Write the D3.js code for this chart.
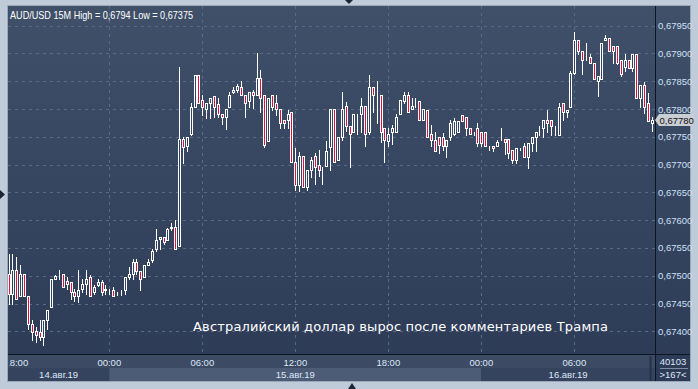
<!DOCTYPE html>
<html>
<head>
<meta charset="utf-8">
<script src="https://cdn.jsdelivr.net/npm/d3@7"></script>
<style>
html, body { margin: 0; padding: 0; background: #bfcbd8; }
svg { display: block; font-family: "Liberation Sans", sans-serif; }
</style>
</head>
<body>
<div id="chart"></div>
<script>
"use strict";

// 15 minute candles, AUD/USD, starting 14.08.2019 17:30
var startTime = new Date(2019, 7, 14, 17, 30);

var opens = [
  .67504,.67468,.67510,.67464,.67504,.67464,.67414,.67400,.67399,.67390,
  .67420,.67444,.67495,.67503,.67504,.67491,.67489,.67470,.67464,.67477,
  .67485,.67498,.67470,.67484,.67489,.67476,.67474,.67475,.67468,.67470,
  .67474,.67497,.67504,.67524,.67509,.67498,.67519,.67528,.67549,.67566,
  .67569,.67565,.67586,.67588,.67553,.67746,.67734,.67755,.67804,.67861,
  .67816,.67800,.67810,.67824,.67809,.67791,.67785,.67804,.67830,.67835,
  .67839,
  .67825,.67815,.67830,.67825,.67855,.67825,.67743,.67825,.67810,.67800,
  .67780,.67780,.67794,.67704,.67664,.67715,.67660,.67690,.67715,.67700,
  .67695,.67698,.67731,.67800,.67709,.67749,.67806,.67770,.67759,.67791,
  .67791,.67806,.67759,.67839,.67825,.67825,.67765,.67743,.67759,.67759,
  .67791,.67815,.67825,.67800,.67812,.67815,.67780,.67799,.67755,.67745,
  .67749,.67749,.67733,.67749,.67755,.67759,.67790,.67785,.67765,.67759,
  .67765,.67759,.67759,.67733,.67734,.67734,.67746,.67746,.67746,.67726,
  .67709,.67729,.67733,.67714,.67739,.67749,.67759,.67765,.67780,.67780,
  .67770,.67754,.67810,.67794,.67804,.67865,.67924,.67905,.67894,.67894,
  .67883,.67850,.67854,.67924,.67928,.67914,.67914,.67889,.67875,.67889,
  .67874,.67899,.67819,.67844,.67810,.67775
];
var highs = [
  .67540,.67540,.67534,.67519,.67504,.67464,.67420,.67408,.67420,.67420,
  .67439,.67495,.67501,.67510,.67504,.67498,.67489,.67477,.67510,.67495,
  .67510,.67501,.67484,.67495,.67492,.67484,.67477,.67479,.67471,.67474,
  .67498,.67515,.67530,.67530,.67509,.67520,.67530,.67549,.67585,.67570,
  .67570,.67586,.67595,.67600,.67876,.67750,.67749,.67810,.67861,.67861,
  .67825,.67810,.67819,.67824,.67819,.67791,.67800,.67831,.67840,.67845,
  .67851,
  .67825,.67830,.67834,.67900,.67870,.67825,.67819,.67825,.67825,.67800,
  .67780,.67798,.67794,.67730,.67723,.67715,.67690,.67714,.67720,.67726,
  .67695,.67743,.67800,.67800,.67749,.67831,.67812,.67770,.67791,.67791,
  .67819,.67806,.67861,.67839,.67850,.67825,.67765,.67765,.67771,.67791,
  .67816,.67831,.67831,.67819,.67819,.67815,.67800,.67799,.67771,.67759,
  .67749,.67756,.67745,.67780,.67783,.67779,.67790,.67785,.67765,.67759,
  .67774,.67759,.67759,.67733,.67734,.67744,.67765,.67746,.67746,.67726,
  .67729,.67729,.67739,.67739,.67749,.67759,.67769,.67780,.67799,.67780,
  .67770,.67810,.67810,.67799,.67869,.67939,.67924,.67905,.67918,.67899,
  .67883,.67860,.67919,.67933,.67928,.67914,.67914,.67889,.67899,.67889,
  .67899,.67899,.67844,.67849,.67829,.67785
];
var lows = [
  .67450,.67450,.67459,.67464,.67464,.67405,.67384,.67381,.67384,.67375,
  .67405,.67444,.67495,.67495,.67479,.67477,.67459,.67455,.67453,.67471,
  .67468,.67464,.67468,.67481,.67465,.67468,.67468,.67464,.67465,.67465,
  .67468,.67495,.67495,.67503,.67474,.67498,.67519,.67524,.67545,.67549,
  .67558,.67565,.67582,.67549,.67553,.67702,.67725,.67753,.67804,.67810,
  .67789,.67783,.67783,.67785,.67785,.67773,.67764,.67804,.67828,.67830,
  .67825,
  .67785,.67804,.67801,.67825,.67795,.67731,.67743,.67798,.67789,.67765,
  .67765,.67765,.67704,.67654,.67652,.67660,.67655,.67678,.67665,.67680,
  .67665,.67698,.67690,.67704,.67709,.67744,.67761,.67695,.67759,.67755,
  .67759,.67734,.67755,.67795,.67774,.67741,.67704,.67734,.67737,.67759,
  .67791,.67810,.67794,.67800,.67804,.67780,.67780,.67749,.67733,.67725,
  .67720,.67727,.67714,.67745,.67753,.67759,.67779,.67753,.67755,.67753,
  .67733,.67733,.67733,.67727,.67725,.67734,.67745,.67719,.67711,.67703,
  .67703,.67726,.67714,.67694,.67725,.67725,.67753,.67749,.67759,.67753,
  .67753,.67754,.67780,.67786,.67804,.67863,.67899,.67863,.67889,.67883,
  .67854,.67823,.67854,.67924,.67904,.67883,.67881,.67859,.67869,.67874,
  .67869,.67819,.67804,.67793,.67779,.67760
];
var closes = [
  .67468,.67510,.67459,.67504,.67464,.67414,.67399,.67394,.67390,.67420,
  .67439,.67495,.67499,.67504,.67479,.67485,.67470,.67464,.67475,.67485,
  .67495,.67464,.67479,.67489,.67470,.67475,.67474,.67464,.67468,.67470,
  .67498,.67504,.67524,.67509,.67495,.67520,.67524,.67544,.67565,.67569,
  .67560,.67584,.67588,.67549,.67746,.67731,.67749,.67804,.67861,.67810,
  .67804,.67810,.67819,.67804,.67791,.67785,.67800,.67825,.67835,.67841,
  .67825,
  .67810,.67830,.67825,.67855,.67819,.67736,.67819,.67804,.67800,.67774,
  .67774,.67791,.67704,.67664,.67715,.67660,.67690,.67709,.67695,.67690,
  .67695,.67725,.67800,.67704,.67749,.67800,.67770,.67755,.67791,.67791,
  .67806,.67755,.67839,.67825,.67825,.67759,.67745,.67755,.67765,.67785,
  .67816,.67825,.67794,.67806,.67812,.67780,.67800,.67749,.67745,.67725,
  .67735,.67734,.67745,.67774,.67779,.67779,.67779,.67765,.67755,.67759,
  .67739,.67739,.67733,.67733,.67729,.67740,.67746,.67740,.67720,.67709,
  .67729,.67729,.67714,.67739,.67749,.67759,.67759,.67780,.67774,.67769,
  .67770,.67804,.67794,.67799,.67865,.67924,.67905,.67889,.67894,.67883,
  .67854,.67860,.67919,.67928,.67904,.67904,.67883,.67863,.67889,.67874,
  .67899,.67819,.67844,.67804,.67779,.67780
];

var priceTicks = [0.674, 0.6745, 0.675, 0.6755, 0.676, 0.6765, 0.677, 0.6775, 0.678, 0.6785, 0.679, 0.6795];
var timeTicks = [
  new Date(2019, 7, 14, 18), new Date(2019, 7, 15, 0), new Date(2019, 7, 15, 6),
  new Date(2019, 7, 15, 12), new Date(2019, 7, 15, 18), new Date(2019, 7, 16, 0),
  new Date(2019, 7, 16, 6)
];
var days = [
  { label: "14.авг.19", from: new Date(2019, 7, 14, 0), to: new Date(2019, 7, 15, 0) },
  { label: "15.авг.19", from: new Date(2019, 7, 15, 0), to: new Date(2019, 7, 16, 0) },
  { label: "16.авг.19", from: new Date(2019, 7, 16, 0), to: new Date(2019, 7, 17, 0) }
];
var title = "AUD/USD 15M High = 0,6794 Low = 0,67375";
var note = "Австралийский доллар вырос после комментариев Трампа";
var lastPrice = 0.6778;

var width = 698, height = 389;
var plot = { left: 8, right: 655, top: 6, bottom: 354 };

var candles = opens.map(function(o, i) {
  return {
    t: new Date(startTime.getTime() + i * 15 * 60000),
    o: o, h: highs[i], l: lows[i], c: closes[i]
  };
});

var x = d3.scaleTime()
  .domain([new Date(2019, 7, 14, 18), new Date(2019, 7, 16, 6)])
  .range([16.3, 574.3]);
var y = d3.scaleLinear().domain([0.674, 0.6795]).range([331.3, 25.7]);

var fmt = function(v) { return d3.format(".5f")(v).replace(".", ","); };

var svg = d3.select("#chart").append("svg")
  .attr("width", width)
  .attr("height", height);

var defs = svg.append("defs");
var grad = defs.append("linearGradient").attr("id", "bg")
  .attr("x1", 0).attr("y1", 0).attr("x2", 0).attr("y2", 1);
grad.append("stop").attr("offset", "0%").attr("stop-color", "#405069");
grad.append("stop").attr("offset", "100%").attr("stop-color", "#2c3a56");
defs.append("clipPath").attr("id", "plotclip").append("rect")
  .attr("x", plot.left).attr("y", plot.top)
  .attr("width", plot.right - plot.left).attr("height", plot.bottom - plot.top);

// outer frame
svg.append("rect").attr("width", width).attr("height", height).attr("fill", "#bfcbd8");
svg.append("rect").attr("x", 7).attr("y", 5).attr("width", 684).attr("height", 377)
  .attr("fill", "#9aa8b8");
svg.append("rect").attr("x", plot.left).attr("y", plot.top)
  .attr("width", 682).attr("height", 375).attr("fill", "url(#bg)");

// little markers on the frame
svg.append("path").attr("d", "M345,0L353,0L349,4Z").attr("fill", "#1b2434");
svg.append("path").attr("d", "M348,389L356,389L352,383Z").attr("fill", "#1b2434");
svg.append("path").attr("d", "M0,190L0,199L5,194.5Z").attr("fill", "#1b2434");

// grid
var grid = svg.append("g").attr("clip-path", "url(#plotclip)")
  .attr("stroke", "#5a6a86").attr("stroke-dasharray", "3,4").attr("stroke-width", 1);
grid.selectAll(".hg").data(priceTicks).enter().append("line")
  .attr("x1", plot.left).attr("x2", plot.right)
  .attr("y1", function(d) { return Math.round(y(d)) + 0.5; })
  .attr("y2", function(d) { return Math.round(y(d)) + 0.5; });
grid.selectAll(".vg").data(timeTicks.slice(1)).enter().append("line")
  .attr("y1", plot.top).attr("y2", plot.bottom)
  .attr("x1", function(d) { return Math.round(x(d)) + 0.5; })
  .attr("x2", function(d) { return Math.round(x(d)) + 0.5; });

// candles
var cg = svg.append("g").attr("clip-path", "url(#plotclip)");
var candle = cg.selectAll(".candle").data(candles).enter().append("g")
  .attr("transform", function(d) { return "translate(" + Math.round(x(d.t)) + ",0)"; });
candle.append("line")
  .attr("x1", 0.5).attr("x2", 0.5)
  .attr("y1", function(d) { return Math.round(y(d.h)); })
  .attr("y2", function(d) { return Math.round(y(d.l)) + 1; })
  .attr("stroke", "#ffffff").attr("stroke-width", 1);
candle.append("rect")
  .attr("x", -0.5)
  .attr("width", 2)
  .attr("y", function(d) { return Math.round(y(Math.max(d.o, d.c))) + 0.5; })
  .attr("height", function(d) {
    return Math.max(0, Math.round(y(Math.min(d.o, d.c))) - Math.round(y(Math.max(d.o, d.c))));
  })
  .attr("fill", function(d) { return d.c < d.o ? "#e0103c" : "#334260"; })
  .attr("stroke", "#ffffff").attr("stroke-width", 1);

// separators
svg.append("line").attr("x1", plot.right + 0.5).attr("x2", plot.right + 0.5)
  .attr("y1", plot.top).attr("y2", 381).attr("stroke", "#0e1522");
svg.append("line").attr("x1", plot.left).attr("x2", 690)
  .attr("y1", plot.bottom + 0.5).attr("y2", plot.bottom + 0.5).attr("stroke", "#0e1522");

// price axis
svg.append("g").selectAll("text").data(priceTicks).enter().append("text")
  .attr("x", 658).attr("y", function(d) { return y(d) + 3.5; })
  .attr("font-size", 9.5).attr("fill", "#cfe0f6")
  .text(fmt);

// last price tag
var ly = Math.round(y(lastPrice));
svg.append("path")
  .attr("d", "M655," + ly + "L659," + (ly - 6) + "L694," + (ly - 6) + "L694," + (ly + 6) + "L659," + (ly + 6) + "Z")
  .attr("fill", "#c9cdd4");
svg.append("text").attr("x", 659.5).attr("y", ly + 4)
  .attr("font-size", 9.5).attr("fill", "#111")
  .text(fmt(lastPrice));

// time axis: date band
var band = svg.append("g");
band.append("rect").attr("x", plot.left).attr("y", 355).attr("width", plot.right - plot.left)
  .attr("height", 13).attr("fill", "#3c4a64");
band.selectAll(".day").data(days).enter().append("rect")
  .attr("x", function(d) { return Math.max(plot.left, x(d.from)); })
  .attr("width", function(d) { return Math.min(plot.right, x(d.to)) - Math.max(plot.left, x(d.from)); })
  .attr("y", 368).attr("height", 13)
  .attr("fill", function(d, i) { return i % 2 ? "#4c5b76" : "#35435e"; });
band.selectAll(".daylabel").data(days).enter().append("text")
  .attr("x", function(d) { return (Math.max(plot.left, x(d.from)) + Math.min(plot.right, x(d.to))) / 2; })
  .attr("y", 378).attr("text-anchor", "middle")
  .attr("font-size", 9.5).attr("fill", "#dde8f6")
  .text(function(d) { return d.label; });

defs.append("clipPath").attr("id", "tclip").append("rect")
  .attr("x", plot.left + 1).attr("y", 354).attr("width", plot.right - plot.left).attr("height", 14);
svg.append("g").attr("clip-path", "url(#tclip)")
  .selectAll("text").data(timeTicks).enter().append("text")
  .attr("x", function(d) { return x(d); })
  .attr("y", 365.5).attr("text-anchor", "middle")
  .attr("font-size", 9.5).attr("fill", "#dde8f6")
  .text(d3.timeFormat("%H:%M"));
svg.append("line").attr("x1", 650.5).attr("x2", 650.5).attr("y1", 356).attr("y2", 381)
  .attr("stroke", "#26324a").attr("stroke-width", 2);

// corner box
svg.append("text").attr("x", 673).attr("y", 365).attr("text-anchor", "middle")
  .attr("font-size", 9.5).attr("fill", "#dde8f6").text("40103");
svg.append("line").attr("x1", 660).attr("x2", 688).attr("y1", 368.5).attr("y2", 368.5)
  .attr("stroke", "#7f8da4");
svg.append("text").attr("x", 673).attr("y", 378).attr("text-anchor", "middle")
  .attr("font-size", 9.5).attr("fill", "#dde8f6").text(">167<");

// title and note
svg.append("text").attr("x", 10).attr("y", 19)
  .attr("font-size", 11).attr("fill", "#ffffff")
  .attr("textLength", 183).attr("lengthAdjust", "spacingAndGlyphs")
  .text(title);
svg.append("text").attr("x", 193).attr("y", 331)
  .attr("font-family", "DejaVu Sans")
  .attr("font-size", 13).attr("fill", "#ffffff")
  .attr("textLength", 415).attr("lengthAdjust", "spacing")
  .text(note);
</script>
</body>
</html>
